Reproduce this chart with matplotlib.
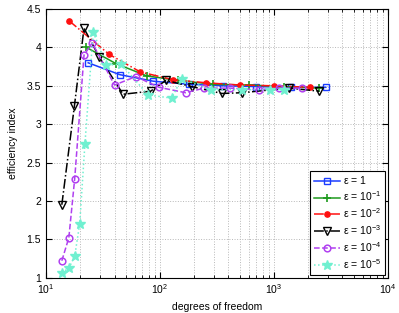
import matplotlib
matplotlib.use("Agg")
import matplotlib.pyplot as plt
from matplotlib.ticker import FixedLocator, FuncFormatter, LogLocator, NullFormatter

plt.rcParams['font.family'] = ['Liberation Sans', 'DejaVu Sans']
plt.rcParams['mathtext.fontset'] = 'custom'
plt.rcParams['mathtext.rm'] = 'Liberation Sans'
plt.rcParams['mathtext.it'] = 'Liberation Sans:italic'

# ---- data ----
dof_e0 = [23.5, 44.6, 87.5, 180, 360, 700, 1400, 2860]
eff_e0 = [3.80, 3.645, 3.56, 3.52, 3.50, 3.49, 3.48, 3.48]

dof_e1 = [22.7, 41.1, 76.4, 145, 293, 607, 1230, 2500]
eff_e1 = [4.00, 3.79, 3.63, 3.57, 3.52, 3.51, 3.49, 3.47]

dof_e2 = [15.9, 35.9, 67.5, 130, 252, 501, 1000, 2070]
eff_e2 = [4.35, 3.91, 3.68, 3.58, 3.54, 3.51, 3.50, 3.48]

dof_e3 = [13.8, 17.8, 21.6, 29.5, 47.6, 83, 113, 190, 350, 525, 1350, 2500]
eff_e3 = [1.95, 3.24, 4.25, 3.87, 3.39, 3.43, 3.57, 3.49, 3.40, 3.41, 3.47, 3.43]

dof_e4 = [13.8, 15.9, 17.9, 21.6, 25.5, 40, 61.5, 98.5, 168, 245, 412, 740, 1110, 1750]
eff_e4 = [1.22, 1.52, 2.29, 3.90, 4.06, 3.51, 3.62, 3.48, 3.41, 3.47, 3.47, 3.45, 3.47, 3.47]

dof_e5 = [13.8, 16.0, 17.9, 19.8, 22.0, 26.0, 34.0, 46.0, 79.0, 127, 155, 280, 521, 920, 1240]
eff_e5 = [1.06, 1.13, 1.28, 1.70, 2.74, 4.20, 3.77, 3.78, 3.38, 3.34, 3.59, 3.45, 3.45, 3.45, 3.45]

labels = [r'$\mathrm{\varepsilon}$ = 1',
          r'$\mathrm{\varepsilon}$ = 10$^{-1}$',
          r'$\mathrm{\varepsilon}$ = 10$^{-2}$',
          r'$\mathrm{\varepsilon}$ = 10$^{-3}$',
          r'$\mathrm{\varepsilon}$ = 10$^{-4}$',
          r'$\mathrm{\varepsilon}$ = 10$^{-5}$']

xticks = [1e1, 1e2, 1e3, 1e4]
xticklabels = [r'10$^{1}$', r'10$^{2}$', r'10$^{3}$', r'10$^{4}$']
yticks = [1, 1.5, 2, 2.5, 3, 3.5, 4, 4.5]

fig = plt.figure(figsize=(3.99, 3.13), dpi=100)
ax = fig.add_axes([0.115, 0.113, 0.857, 0.858])

lw = 1.1
ax.plot(dof_e0, eff_e0, '-', color='#1a3cff', marker='s', mfc='none', mec='#1a3cff',
        ms=4.2, mew=1.0, lw=lw, label=labels[0])
ax.plot(dof_e1, eff_e1, '-', color='#1e9a1e', marker='+', ms=6, mew=1.2, lw=lw, label=labels[1])
ax.plot(dof_e2, eff_e2, '-.', color='#ff1010', marker='o', mfc='#ff1010', mec='#ff1010',
        ms=3.8, lw=lw, label=labels[2])
ax.plot(dof_e3, eff_e3, '-.', color='black', marker='v', mfc='none', mec='black',
        ms=5.2, mew=1.0, lw=lw, label=labels[3])
ax.plot(dof_e4, eff_e4, '--', color='#b040f0', marker='o', mfc='none', mec='#b040f0',
        ms=4.8, mew=1.1, lw=lw, label=labels[4])
ax.plot(dof_e5, eff_e5, ':', color='#70f0d0', marker='*', mfc='#70f0d0', mec='#70f0d0',
        ms=7, lw=lw, label=labels[5])

ax.set_xscale('log')
ax.set_xlim(10, 1e4)
ax.set_ylim(1, 4.5)
ax.xaxis.set_major_locator(FixedLocator(xticks))
ax.set_xticklabels(xticklabels)
ax.xaxis.set_minor_locator(LogLocator(base=10, subs=range(2, 10)))
ax.xaxis.set_minor_formatter(NullFormatter())
ax.yaxis.set_major_locator(FixedLocator(yticks))
ax.yaxis.set_major_formatter(FuncFormatter(lambda v, p: ('%g' % v)))

ax.grid(True, which='major', axis='both', linestyle=':', color='#b8b8b8', lw=0.7)
ax.grid(True, which='minor', axis='x', linestyle=':', color='#b8b8b8', lw=0.7)
ax.tick_params(which='both', direction='in', top=True, right=True, labelsize=7.5)
ax.tick_params(which='major', length=4)
ax.tick_params(which='minor', length=2)
for s in ax.spines.values():
    s.set_linewidth(0.8)

ax.set_xlabel('degrees of freedom', fontsize=7.5, labelpad=4)
ax.set_ylabel('efficiency index', fontsize=7.5, labelpad=6)

leg = ax.legend(loc='lower right', fontsize=7.5, fancybox=False, edgecolor='black',
                framealpha=1, handlelength=2.5, borderpad=0.35, labelspacing=0.3,
                handletextpad=0.3, borderaxespad=0.3)
leg.get_frame().set_linewidth(0.8)

fig.savefig('out.png', dpi=100)
